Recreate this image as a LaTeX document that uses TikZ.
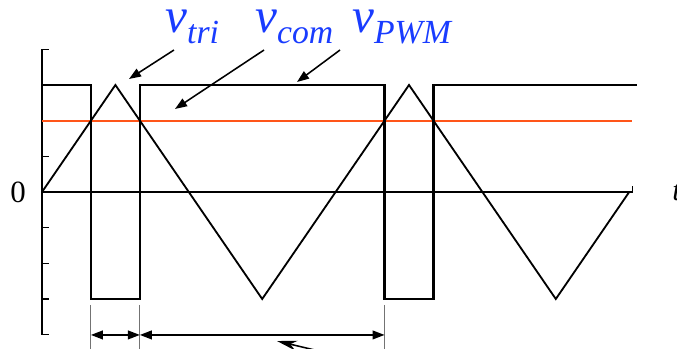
\documentclass[tikz,border=0pt]{standalone}
\usepackage{fontspec}
\setmainfont{Liberation Serif}
\usetikzlibrary{arrows.meta}
\definecolor{azul}{RGB}{25,60,255}
\definecolor{laranja}{RGB}{255,85,25}
\newcommand{\siglabel}[1]{{\fontsize{35}{35}\selectfont\itshape v}\raisebox{-8.5pt}{\fontsize{24}{24}\selectfont\itshape #1}}

\begin{document}
\begin{tikzpicture}[x=1.835cm, y=2.675cm,
    seta/.style={-{Triangle[length=3mm, width=2.2mm]}, line width=1.1pt},
    cota/.style={{Triangle[length=3mm, width=2.2mm]}-{Triangle[length=3mm, width=2.2mm]}, line width=1.1pt},
    rotulo/.style={azul, inner sep=0pt, anchor=base west}]
  \useasboundingbox (-0.5722,-1.4673) rectangle (8.6512,1.7944);
  \clip (-0.5722,-1.4673) rectangle (8.6512,1.7944);
  % eixos
  \draw[line width=0.8pt] (0,4/3) -- (0,-4/3);
  \foreach \k in {-4,...,4}
    \draw[line width=0.8pt] (0,\k/3) -- (0.095,\k/3);
  \draw[line width=0.8pt] (0,0) -- (8.04,0) -- (8.04,0.06);
  \node[font=\fontsize{22}{22}\selectfont, anchor=east, inner sep=0pt] (zero) at (-0.218,0) {0};
  \node[font=\fontsize{22}{22}\selectfont\itshape, anchor=base west, inner sep=0pt] (tempo) at (8.583,-0.075) {t};
  % referencia
  \draw[laranja, line width=1.4pt] (0,2/3) -- (8.04,2/3);
  % portadora triangular
  \draw[line width=1.3pt] (0,0) -- (1,1) -- (3,-1) -- (5,1) -- (7,-1) -- (8,0);
  % saida pwm
  \draw[line width=1.7pt] (0,1) -- (2/3,1) -- (2/3,-1) -- (4/3,-1) -- (4/3,1)
    -- (14/3,1) -- (14/3,-1) -- (16/3,-1) -- (16/3,1) -- (8.1,1);
  % rotulos e setas
  \node[rotulo] (vtri) at (1.676,1.495) {\siglabel{tri}};
  \node[rotulo] (vcom) at (2.902,1.495) {\siglabel{com}};
  \node[rotulo] (vpwm) at (4.223,1.495) {\siglabel{PWM}};
  \coordinate (atri) at (1.798,1.327);
  \coordinate (ptri) at (1.185,1.056);
  \coordinate (acom) at (3.025,1.327);
  \coordinate (pcom) at (1.812,0.776);
  \coordinate (apwm) at (4.060,1.327);
  \coordinate (ppwm) at (3.474,1.028);
  \draw[seta] (atri) -- (ptri);
  \draw[seta] (acom) -- (pcom);
  \draw[seta] (apwm) -- (ppwm);
  % cotas
  \coordinate (c1) at (2/3,-1.336);
  \coordinate (c2) at (4/3,-1.336);
  \coordinate (c3) at (14/3,-1.336);
  \foreach \x in {2/3,4/3,14/3}
    \draw[black!55, line width=0.8pt] (\x,-1.056) -- (\x,-1.5);
  \draw[cota] (c1) -- (c2);
  \draw[cota] (c2) -- (c3);
  \coordinate (bcota) at (4.060,-1.533);
  \coordinate (pcota) at (3.202,-1.393);
  \draw[-{Stealth[length=5mm, width=2.5mm]}, line width=1.1pt] (bcota) -- (pcota);
\end{tikzpicture}
\end{document}
